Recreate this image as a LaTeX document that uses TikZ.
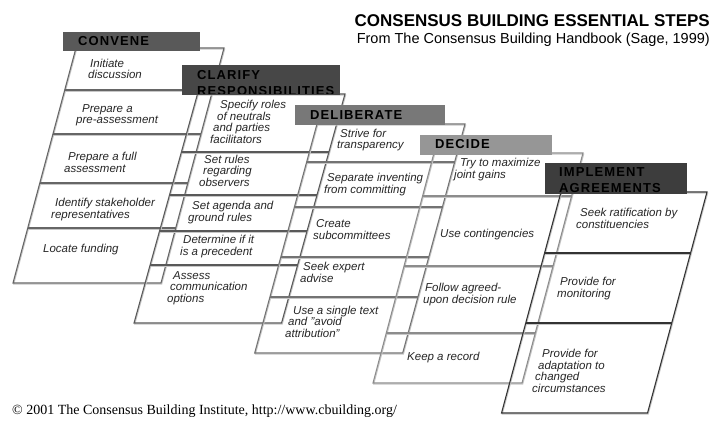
\documentclass[tikz,border=0pt]{standalone}
\usepackage{fontspec}
\setmainfont{Liberation Sans}
\newfontfamily\hdrfont{Liberation Sans}[LetterSpace=8.5]
\newfontfamily\footfont{Liberation Serif}

% One column of slanted cells: top y, bottom y, left x at top, width, slant, divider ys, line colour
\newcommand\stagecol[7]{%
  \pgfmathsetmacro\colbx{#3-#5*(#2-#1)}%
  \foreach \shx/\shy/\lncol/\lnw in {0.7/1.1/black!22/1.0, 0/0/#7/1.1} {%
    \begin{scope}[shift={(\shx,\shy)}]
      \draw[line width=\lnw pt, draw=\lncol, line join=miter]
        (#3,#1) -- ++(#4,0) -- (\colbx+#4,#2) -- (\colbx,#2) -- cycle;
      \foreach \divy in {#6} {%
        \pgfmathsetmacro\divx{#3-#5*(\divy-#1)}%
        \draw[line width=\lnw pt, draw=\lncol] (\divx,\divy) -- ++(#4,0);
      }
    \end{scope}
  }%
}

\begin{document}
% text nodes are placed by the baseline of their last line
\begin{tikzpicture}[x=1pt,y=-1pt,
  celltext/.style={anchor=base west, inner sep=0pt, align=left, text=black!85,
    font=\fontsize{11.5}{11.5}\selectfont\itshape},
  hdrtext/.style={anchor=base west, inner sep=0pt, align=left, text=black,
    font=\hdrfont\bfseries\fontsize{13}{16}\selectfont}]
\useasboundingbox (0,0) rectangle (713,428);
\fill[white] (0,0) rectangle (713,428);

% titles
\node[anchor=base east, inner sep=0pt, font=\bfseries\fontsize{17}{17}\selectfont]
  (title) at (710,26.5) {CONSENSUS BUILDING ESSENTIAL STEPS};
\node[anchor=base east, inner sep=0pt, font=\fontsize{14.5}{14.5}\selectfont]
  (subtitle) at (710,43.3) {From The Consensus Building Handbook (Sage, 1999)};

% 1: convene
\stagecol{48}{283}{76}{148}{0.268}{90,134,183,228}{black!60}
\fill[black!65] (63,32) rectangle (200,51);
\node[hdrtext] (h1) at (78,46) {CONVENE};

% 2: clarify responsibilities
\stagecol{94}{323}{197.5}{147.5}{0.277}{152,195,231,265}{black!65}
\fill[black!72] (182,65) rectangle (340,95);
\begin{scope}
  \clip (182,65) rectangle (340,93.8);
  \node[hdrtext] (h2) at (197,95.5) {CLARIFY\\RESPONSIBILITIES};
\end{scope}

% 3: deliberate
\stagecol{124}{353}{317}{148}{0.272}{162,207,257,297}{black!55}
\fill[black!53] (295,105.5) rectangle (445,125);
\node[hdrtext] (h3) at (310,120) {DELIBERATE};

% 4: decide
\stagecol{153}{383}{434}{149}{0.265}{196,266,333}{black!45}
\fill[black!41] (420,135) rectangle (552,155);
\node[hdrtext] (h4) at (435,148.5) {DECIDE};

% 5: implement agreements
\stagecol{192}{413}{561}{146}{0.269}{253,323}{black!80}
\fill[black!76] (545,163) rectangle (687,194);
\node[hdrtext] (h5) at (559,192.5) {IMPLEMENT\\AGREEMENTS};

% cell texts, column 1
\node[celltext] (c1a) at (88,79) {\hspace*{2pt}Initiate\\discussion};
\node[celltext] (c1b) at (76,124) {\hspace*{6pt}Prepare a\\pre-assessment};
\node[celltext] (c1c) at (64,172) {\hspace*{4pt}Prepare a full\\assessment};
\node[celltext] (c1d) at (51,218) {\hspace*{4pt}Identify stakeholder\\representatives};
\node[celltext] (c1e) at (43,252) {Locate funding};

% column 2
\node[celltext] (c2a) at (210,143) {\hspace*{10pt}Specify roles\\\hspace*{7pt}of neutrals\\\hspace*{3pt}and parties\\facilitators};
\node[celltext] (c2b) at (199,186) {\hspace*{5pt}Set rules\\\hspace*{4pt}regarding\\observers};
\node[celltext] (c2c) at (188,221) {\hspace*{4pt}Set agenda and\\ground rules};
\node[celltext] (c2d) at (180,255) {\hspace*{3pt}Determine if it\\is a precedent};
\node[celltext] (c2e) at (167,302) {\hspace*{6pt}Assess\\\hspace*{3pt}communication\\options};

% column 3
\node[celltext] (c3a) at (337,149) {\hspace*{3pt}Strive for\\transparency};
\node[celltext] (c3b) at (324,193) {\hspace*{3pt}Separate inventing\\from committing};
\node[celltext] (c3c) at (313,239) {\hspace*{3pt}Create\\subcommittees};
\node[celltext] (c3d) at (300,282) {\hspace*{3pt}Seek expert\\advise};
\node[celltext] (c3e) at (285,337) {\hspace*{8pt}Use a single text\\\hspace*{3pt}and "avoid\\attribution"};

% column 4
\node[celltext] (c4a) at (454,178) {\hspace*{6pt}Try to maximize\\joint gains};
\node[celltext] (c4b) at (440,237) {Use contingencies};
\node[celltext] (c4c) at (423,303) {\hspace*{2pt}Follow agreed-\\upon decision rule};
\node[celltext] (c4d) at (407,360) {Keep a record};

% column 5
\node[celltext] (c5a) at (576,228) {\hspace*{4pt}Seek ratification by\\constituencies};
\node[celltext] (c5b) at (557,297) {\hspace*{3pt}Provide for\\monitoring};
\node[celltext] (c5c) at (532,392) {\hspace*{10pt}Provide for\\\hspace*{6pt}adaptation to\\\hspace*{3pt}changed\\circumstances};

% footer
\node[anchor=base west, inner sep=0pt, font=\footfont\fontsize{14}{14}\selectfont]
  (credit) at (12,414.5) {© 2001 The Consensus Building Institute, http://www.cbuilding.org/};
\end{tikzpicture}
\end{document}
